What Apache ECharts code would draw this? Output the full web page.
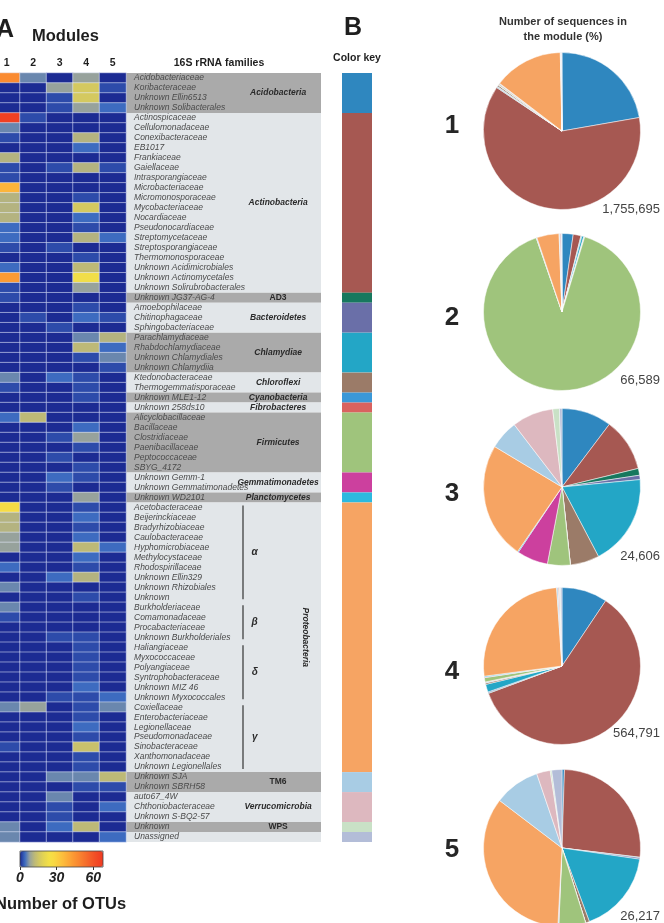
<!DOCTYPE html>
<html>
<head>
<meta charset="utf-8">
<script src="https://cdn.jsdelivr.net/npm/echarts@6/dist/echarts.min.js"></script>
<style>
  html, body { margin: 0; padding: 0; background: #fff; }
  #chart { width: 664px; height: 923px; }
</style>
</head>
<body>
<div id="chart"></div>
<script>
const FONT = '"Liberation Sans", Arial, sans-serif'

// ---- data ----
const modules = ['1', '2', '3', '4', '5']

const phyla = [
  'Acidobacteria', 'Actinobacteria', 'AD3', 'Bacteroidetes', 'Chlamydiae',
  'Chloroflexi', 'Cyanobacteria', 'Fibrobacteres', 'Firmicutes', 'Gemmatimonadetes',
  'Planctomycetes', 'Proteobacteria', 'TM6', 'Verrucomicrobia', 'WPS', '',
]
const phylumSizes = [4, 18, 1, 3, 4, 2, 1, 1, 6, 2, 1, 27, 2, 3, 1, 1]
const phylumColors = [
  '#2f87bf', '#a65852', '#17785e', '#6a6fa8', '#23a6c6', '#9b7b68', '#3a98d8', '#d9625f',
  '#9fc47c', '#cc409e', '#2cb9df', '#f6a463', '#a8cce4', '#ddb8bf', '#c9e1c6', '#b3bdd8',
]

const families = [
  'Acidobacteriaceae', 'Koribacteraceae', 'Unknown Ellin6513', 'Unknown Solibacterales',
  'Actinospicaceae', 'Cellulomonadaceae', 'Conexibacteraceae', 'EB1017', 'Frankiaceae',
  'Gaiellaceae', 'Intrasporangiaceae', 'Microbacteriaceae', 'Micromonosporaceae',
  'Mycobacteriaceae', 'Nocardiaceae', 'Pseudonocardiaceae', 'Streptomycetaceae',
  'Streptosporangiaceae', 'Thermomonosporaceae', 'Unknown Acidimicrobiales',
  'Unknown Actinomycetales', 'Unknown Solirubrobacterales',
  'Unknown JG37-AG-4',
  'Amoebophilaceae', 'Chitinophagaceae', 'Sphingobacteriaceae',
  'Parachlamydiaceae', 'Rhabdochlamydiaceae', 'Unknown Chlamydiales', 'Unknown Chlamydiia',
  'Ktedonobacteraceae', 'Thermogemmatisporaceae',
  'Unknown MLE1-12',
  'Unknown 258ds10',
  'Alicyclobacillaceae', 'Bacillaceae', 'Clostridiaceae', 'Paenibacillaceae',
  'Peptococcaceae', 'SBYG_4172',
  'Unknown Gemm-1', 'Unknown Gemmatimonadetes',
  'Unknown WD2101',
  'Acetobacteraceae', 'Beijerinckiaceae', 'Bradyrhizobiaceae', 'Caulobacteraceae',
  'Hyphomicrobiaceae', 'Methylocystaceae', 'Rhodospirillaceae', 'Unknown Ellin329',
  'Unknown Rhizobiales', 'Unknown',
  'Burkholderiaceae', 'Comamonadaceae', 'Procabacteriaceae', 'Unknown Burkholderiales',
  'Haliangiaceae', 'Myxococcaceae', 'Polyangiaceae', 'Syntrophobacteraceae',
  'Unknown MIZ 46', 'Unknown Myxococcales',
  'Coxiellaceae', 'Enterobacteriaceae', 'Legionellaceae', 'Pseudomonadaceae',
  'Sinobacteraceae', 'Xanthomonadaceae', 'Unknown Legionellales',
  'Unknown SJA', 'Unknown SBRH58',
  'auto67_4W', 'Chthoniobacteraceae', 'Unknown S-BQ2-57',
  'Unknown',
  'Unassigned',
]

// number of OTUs per family (rows) and module (columns 1-5)
const otuCounts = [
  [47, 6, 0, 8, 0], [0, 0, 8, 16, 2], [0, 0, 2, 16, 0], [0, 0, 2, 8, 4],
  [66, 2, 0, 0, 0], [6, 0, 0, 0, 0], [2, 0, 0, 11, 0], [0, 0, 0, 4, 0], [11, 0, 0, 0, 0],
  [2, 0, 2, 11, 2], [2, 0, 0, 0, 0], [37, 0, 0, 0, 0], [11, 0, 0, 2, 0], [11, 0, 0, 16, 0],
  [11, 0, 0, 4, 0], [4, 0, 0, 2, 0], [4, 0, 0, 11, 4], [2, 0, 2, 0, 0], [0, 0, 0, 2, 0],
  [4, 0, 0, 12, 0], [43, 0, 0, 23, 0], [2, 0, 0, 8, 0],
  [2, 0, 0, 0, 0],
  [0, 0, 0, 2, 0], [0, 2, 0, 4, 2], [0, 0, 2, 0, 0],
  [0, 0, 0, 6, 11], [0, 0, 0, 12, 4], [0, 0, 0, 2, 6], [0, 0, 0, 0, 2],
  [6, 0, 4, 2, 0], [2, 0, 0, 2, 0],
  [0, 0, 0, 2, 0],
  [0, 0, 0, 0, 0],
  [4, 12, 0, 0, 0], [0, 0, 0, 4, 0], [0, 0, 2, 8, 0], [0, 0, 0, 2, 0], [0, 0, 2, 0, 0], [0, 0, 0, 2, 0],
  [0, 0, 4, 2, 0], [0, 0, 2, 0, 0],
  [0, 0, 0, 8, 0],
  [26, 0, 0, 2, 0], [11, 0, 0, 4, 0], [11, 0, 0, 2, 0], [8, 0, 0, 4, 0], [8, 0, 0, 12, 4],
  [0, 0, 0, 4, 0], [4, 0, 0, 2, 0], [0, 0, 4, 11, 0], [6, 0, 0, 0, 0], [0, 0, 0, 2, 0],
  [6, 0, 0, 0, 0], [2, 0, 0, 0, 0], [0, 0, 0, 0, 0], [0, 0, 2, 2, 0],
  [0, 0, 0, 2, 0], [0, 0, 0, 2, 0], [0, 0, 0, 2, 0], [0, 0, 0, 2, 0], [0, 0, 0, 4, 0], [0, 0, 2, 2, 4],
  [6, 8, 0, 2, 6], [0, 0, 0, 2, 0], [0, 0, 0, 4, 0], [0, 0, 0, 2, 0], [2, 0, 0, 14, 0],
  [0, 0, 0, 2, 0], [0, 0, 0, 2, 0],
  [0, 0, 6, 6, 12], [0, 0, 0, 2, 2],
  [0, 0, 6, 0, 0], [0, 0, 2, 0, 4], [0, 0, 2, 0, 0],
  [6, 0, 4, 12, 0],
  [6, 0, 0, 0, 4],
]

const proteoClasses = ['α', 'β', 'δ', 'γ']
const proteoClassSizes = [10, 4, 6, 7]

const otuMax = 68
const otuTicks = [0, 30, 60]

const moduleTotals = ['1,755,695', '66,589', '24,606', '564,791', '26,217']

// % of sequences per phylum (same order as phyla) in each module
const seqShare = [
  [22.3, 62.2, 0.1, 0.1, 0.1, 0.3, 0.05, 0.05, 0.2, 0.1, 0.05, 14.3, 0.1, 0.1, 0.05, 0.1],
  [2.3, 1.6, 0.1, 0.1, 0.4, 0.1, 0.1, 0, 90.4, 0.05, 0.1, 4.6, 0.15, 0.3, 0.05, 0.1],
  [10.3, 10.9, 1.4, 0.9, 18.8, 6.0, 0, 0, 4.7, 6.4, 0.2, 24.0, 6.0, 8.5, 1.4, 0.5],
  [9.4, 60.0, 0.1, 0.2, 1.6, 0.3, 0.1, 0.1, 0.9, 0.1, 0.2, 26.0, 0.3, 0.3, 0.2, 0.3],
  [0.5, 26.3, 0.1, 0.3, 17.0, 0.8, 0, 0, 5.5, 0.1, 0.1, 34.4, 9.4, 2.8, 0.3, 2.1],
]

// ---- layout ----
const TOP = 73, ROWS_H = 769
const pieX = 562
const pieY = [131, 312, 487, 666, 848]
const numY = [126, 318, 494, 672, 850]
const totalY = [209, 380, 556, 733, 916]

// row ranges of the phylum groups
const groups = []
let r0 = 0
phylumSizes.forEach((n, i) => { groups.push([r0, r0 + n - 1, i]); r0 += n })
const proteoStart = groups[phyla.indexOf('Proteobacteria')][0]
const classGroups = []
let c0 = proteoStart
proteoClassSizes.forEach((n, i) => { classGroups.push([c0, c0 + n - 1, i]); c0 += n })

const heatData = []
otuCounts.forEach((row, y) => row.forEach((v, x) => heatData.push([x, y, v])))

const rowAxis = (gi) => ({ gridIndex: gi, type: 'value', min: -0.5, max: families.length - 0.5, inverse: true, show: false })
const unitAxis = (gi) => ({ gridIndex: gi, type: 'value', min: 0, max: 1, show: false })

function txt(x, y, text, size, opt = {}) {
  return {
    type: 'text', x, y, silent: true,
    style: Object.assign({
      text, fontSize: size, fontWeight: 'bold', fontFamily: FONT, fill: '#1e1e1e',
      align: 'left', verticalAlign: 'middle',
    }, opt),
  }
}

const graphics = [
  txt(-4, 30, 'A', 25),
  txt(32, 36, 'Modules', 16.5),
  txt(219, 63, '16S rRNA families', 10.5, { align: 'center' }),
  txt(344, 28, 'B', 25),
  txt(357, 58, 'Color key', 10.5, { align: 'center' }),
  txt(563, 22, 'Number of sequences in', 11, { align: 'center', fill: '#333' }),
  txt(563, 37, 'the module (%)', 11, { align: 'center', fill: '#333' }),
  txt(-5, 904, 'Number of OTUs', 16.5),
]
modules.forEach((m, k) => {
  graphics.push(txt(452, numY[k], m, 26, { align: 'center', fill: '#262626' }))
  graphics.push(txt(660, totalY[k], moduleTotals[k], 13, { align: 'right', fontWeight: 'normal', fill: '#444' }))
})

const chart = echarts.init(document.getElementById('chart'), null, { renderer: 'canvas' })

chart.setOption({
  backgroundColor: '#ffffff',
  animation: false,
  textStyle: { fontFamily: FONT },
  grid: [
    { left: -6.5, top: TOP, width: 132.5, height: ROWS_H, outerBoundsMode: 'none' },
    { left: 126, top: TOP, width: 195, height: ROWS_H, outerBoundsMode: 'none' },
    { left: 342, top: TOP, width: 30, height: ROWS_H, outerBoundsMode: 'none' },
    { left: 20, top: 851, width: 83, height: 16, outerBoundsMode: 'none',
      show: true, z: 10, backgroundColor: 'transparent', borderColor: '#444', borderWidth: 0.8 },
  ],
  xAxis: [
    {
      gridIndex: 0, type: 'category', data: modules, position: 'top',
      axisLine: { show: false }, axisTick: { show: false }, splitLine: { show: false },
      axisLabel: { color: '#1e1e1e', fontSize: 10.5, fontWeight: 'bold', margin: 4, fontFamily: FONT },
    },
    unitAxis(1),
    unitAxis(2),
    {
      gridIndex: 3, type: 'value', min: 0, max: otuMax, position: 'bottom',
      axisLine: { show: false }, splitLine: { show: false },
      axisTick: { show: true, customValues: otuTicks, length: 3, lineStyle: { color: '#333' } },
      axisLabel: {
        customValues: otuTicks, margin: 4, color: '#222', fontSize: 14,
        fontWeight: 'bold', fontStyle: 'italic', fontFamily: FONT,
      },
    },
  ],
  yAxis: [
    { gridIndex: 0, type: 'category', data: families.map((_, i) => i), inverse: true, show: false },
    rowAxis(1),
    rowAxis(2),
    { gridIndex: 3, type: 'value', show: false },
  ],
  visualMap: {
    type: 'continuous', seriesIndex: 0, min: 0, max: otuMax,
    orient: 'horizontal', left: 20, top: 851, itemWidth: 16, itemHeight: 83,
    calculable: false, hoverLink: false, padding: 0,
    inRange: {
      color: [
        '#1c2b93', '#3d6bc0', '#97a29c', '#bdb977', '#d4c960', '#e6d650', '#f4e046', '#f8d843',
        '#fbc93f', '#fcb93b', '#fca837', '#fb9733', '#f98730', '#f7762d', '#f5652a', '#f35427',
        '#f14624', '#ef3a22',
      ],
    },
  },
  graphic: graphics,
  series: [
    {
      type: 'heatmap', xAxisIndex: 0, yAxisIndex: 0, data: heatData, silent: true,
      itemStyle: { borderColor: 'rgba(232,238,255,0.65)', borderWidth: 0.8 },
      emphasis: { disabled: true },
    },
    {
      // grey bands behind each phylum group
      type: 'custom', xAxisIndex: 1, yAxisIndex: 1, silent: true, data: groups, z: 1,
      renderItem(params, api) {
        const p0 = api.coord([0, api.value(0) - 0.5])
        const p1 = api.coord([1, api.value(1) + 0.5])
        return {
          type: 'rect',
          shape: { x: p0[0], y: p0[1], width: p1[0] - p0[0], height: p1[1] - p0[1] },
          style: { fill: api.value(2) % 2 ? '#e2e6e9' : '#aaaaaa' },
        }
      },
    },
    {
      // family names
      type: 'custom', xAxisIndex: 1, yAxisIndex: 1, silent: true, z: 3,
      data: families.map((_, i) => [0, i]),
      renderItem(params, api) {
        const p = api.coord([0, api.value(1)])
        return {
          type: 'text', x: p[0] + 8, y: p[1],
          style: {
            text: families[params.dataIndex], fill: '#4a4a4a', fontSize: 8.5,
            fontStyle: 'italic', fontFamily: FONT, align: 'left', verticalAlign: 'middle',
          },
        }
      },
    },
    {
      // phylum names
      type: 'custom', xAxisIndex: 1, yAxisIndex: 1, silent: true, z: 3, data: groups,
      renderItem(params, api) {
        const name = phyla[api.value(2)]
        if (!name) return
        const mid = (api.value(0) + api.value(1)) / 2
        const vertical = name === 'Proteobacteria'
        const p = api.coord([vertical ? 0.92 : 0.78, mid])
        return {
          type: 'text', x: p[0], y: p[1], rotation: vertical ? -Math.PI / 2 : 0,
          style: {
            text: name, fill: '#2a2a2a', fontSize: 8.5, fontWeight: 'bold',
            fontStyle: /^[A-Z0-9]+$/.test(name) ? 'normal' : 'italic',
            fontFamily: FONT, align: 'center', verticalAlign: 'middle',
          },
        }
      },
    },
    {
      // proteobacteria classes with brackets
      type: 'custom', xAxisIndex: 1, yAxisIndex: 1, silent: true, z: 3, data: classGroups,
      renderItem(params, api) {
        const a = api.coord([0.6, api.value(0) - 0.5])
        const b = api.coord([0.6, api.value(1) + 0.5])
        const m = api.coord([0.66, (api.value(0) + api.value(1)) / 2])
        return {
          type: 'group',
          children: [
            { type: 'line', shape: { x1: a[0], y1: a[1] + 3, x2: b[0], y2: b[1] - 3 },
              style: { stroke: '#333', lineWidth: 1.2 } },
            { type: 'text', x: m[0], y: m[1],
              style: { text: proteoClasses[api.value(2)], fill: '#2a2a2a', fontSize: 10,
                fontWeight: 'bold', fontStyle: 'italic', fontFamily: FONT,
                align: 'center', verticalAlign: 'middle' } },
          ],
        }
      },
    },
    {
      // color key bar
      type: 'custom', xAxisIndex: 2, yAxisIndex: 2, silent: true, data: groups,
      renderItem(params, api) {
        const p0 = api.coord([0, api.value(0) - 0.5])
        const p1 = api.coord([1, api.value(1) + 0.5])
        return {
          type: 'rect',
          shape: { x: p0[0], y: p0[1], width: p1[0] - p0[0], height: p1[1] - p0[1] },
          style: { fill: phylumColors[api.value(2)] },
        }
      },
    },
    ...seqShare.map((vals, k) => ({
      type: 'pie', center: [pieX, pieY[k]], radius: 78.5, startAngle: 90, clockwise: true,
      silent: true, label: { show: false }, labelLine: { show: false },
      itemStyle: { borderColor: '#ffffff', borderWidth: 0.5 },
      data: vals.map((v, i) => ({
        value: v, name: phyla[i] || 'Unassigned', itemStyle: { color: phylumColors[i] },
      })),
    })),
  ],
})
</script>
</body>
</html>
